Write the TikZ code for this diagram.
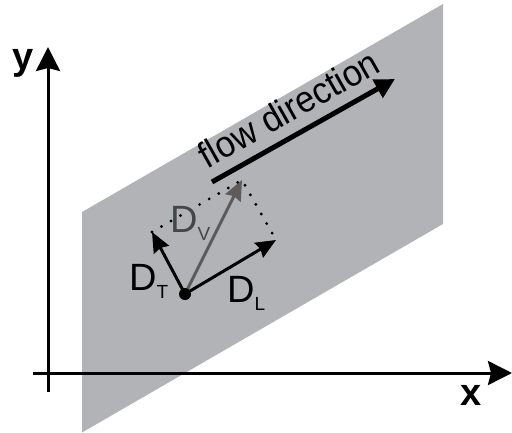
\documentclass[tikz,border=0pt]{standalone}
\usepackage{fontspec}
\setmainfont{Liberation Sans}
\usetikzlibrary{arrows.meta}
\definecolor{plane}{RGB}{178,179,182}
\definecolor{vgray}{RGB}{95,91,91}
\definecolor{lgray}{RGB}{66,72,74}
\tikzset{
  axis/.style={line width=3pt,-{Stealth[length=24pt,width=24pt,inset=3pt]}},
  vec/.style={line width=3pt,-{Stealth[length=20pt,width=17pt,inset=2pt]}},
  dotline/.style={line width=3.2pt,line cap=round,dash pattern=on 0pt off 11pt},
  big/.style={font=\fontsize{38}{38}\selectfont,inner sep=0pt},
  axlabel/.style={font=\fontsize{38}{38}\selectfont\bfseries,inner sep=0pt,anchor=base},
}
\newcommand{\dlab}[1]{D\raisebox{-8pt}{\fontsize{19}{19}\selectfont #1}}
\begin{document}
\begin{tikzpicture}[x=1pt,y=-1pt]
\useasboundingbox (0,0) rectangle (512,432);
% plane
\fill[plane] (82,212) -- (443,4) -- (443,224) -- (82,432.5) -- cycle;
% axes
\coordinate (yb) at (48,392);
\coordinate (yt) at (48,47);
\coordinate (xl) at (33,373);
\coordinate (xr) at (512,373);
\draw[axis] (yb) -- (yt);
\draw[axis] (xl) -- (xr);
\node[axlabel] (ylab) at (23,69) {y};
\node[axlabel] (xlab) at (471,405) {x};
% flow direction
\coordinate (fs) at (212,182);
\coordinate (fe) at (395,79);
\draw[line width=5pt,-{Triangle[length=20pt,width=20pt]}] (fs) -- (fe);
\node[inner sep=0pt,anchor=base,rotate=29.5,font=\fontsize{37}{37}\selectfont,xscale=0.93] (flow) at (295,120) {flow direction};
% vectors
\coordinate (O) at (185,294);
\coordinate (T) at (152,232);
\coordinate (L) at (276,240);
\coordinate (V) at (242,180);
\draw[dotline] (T) -- (V) -- (L);
\draw[vec,vgray] (O) -- (V);
\draw[vec] (O) -- (T);
\draw[vec] (O) -- (L);
\fill (O) circle (6pt);
\node[big,anchor=base west] (dt) at (129,290) {\dlab{T}};
\node[big,anchor=base west] (dl) at (227,302) {\dlab{L}};
\node[big,anchor=base west,text=lgray] (dv) at (170,232) {\dlab{V}};
\end{tikzpicture}
\end{document}
